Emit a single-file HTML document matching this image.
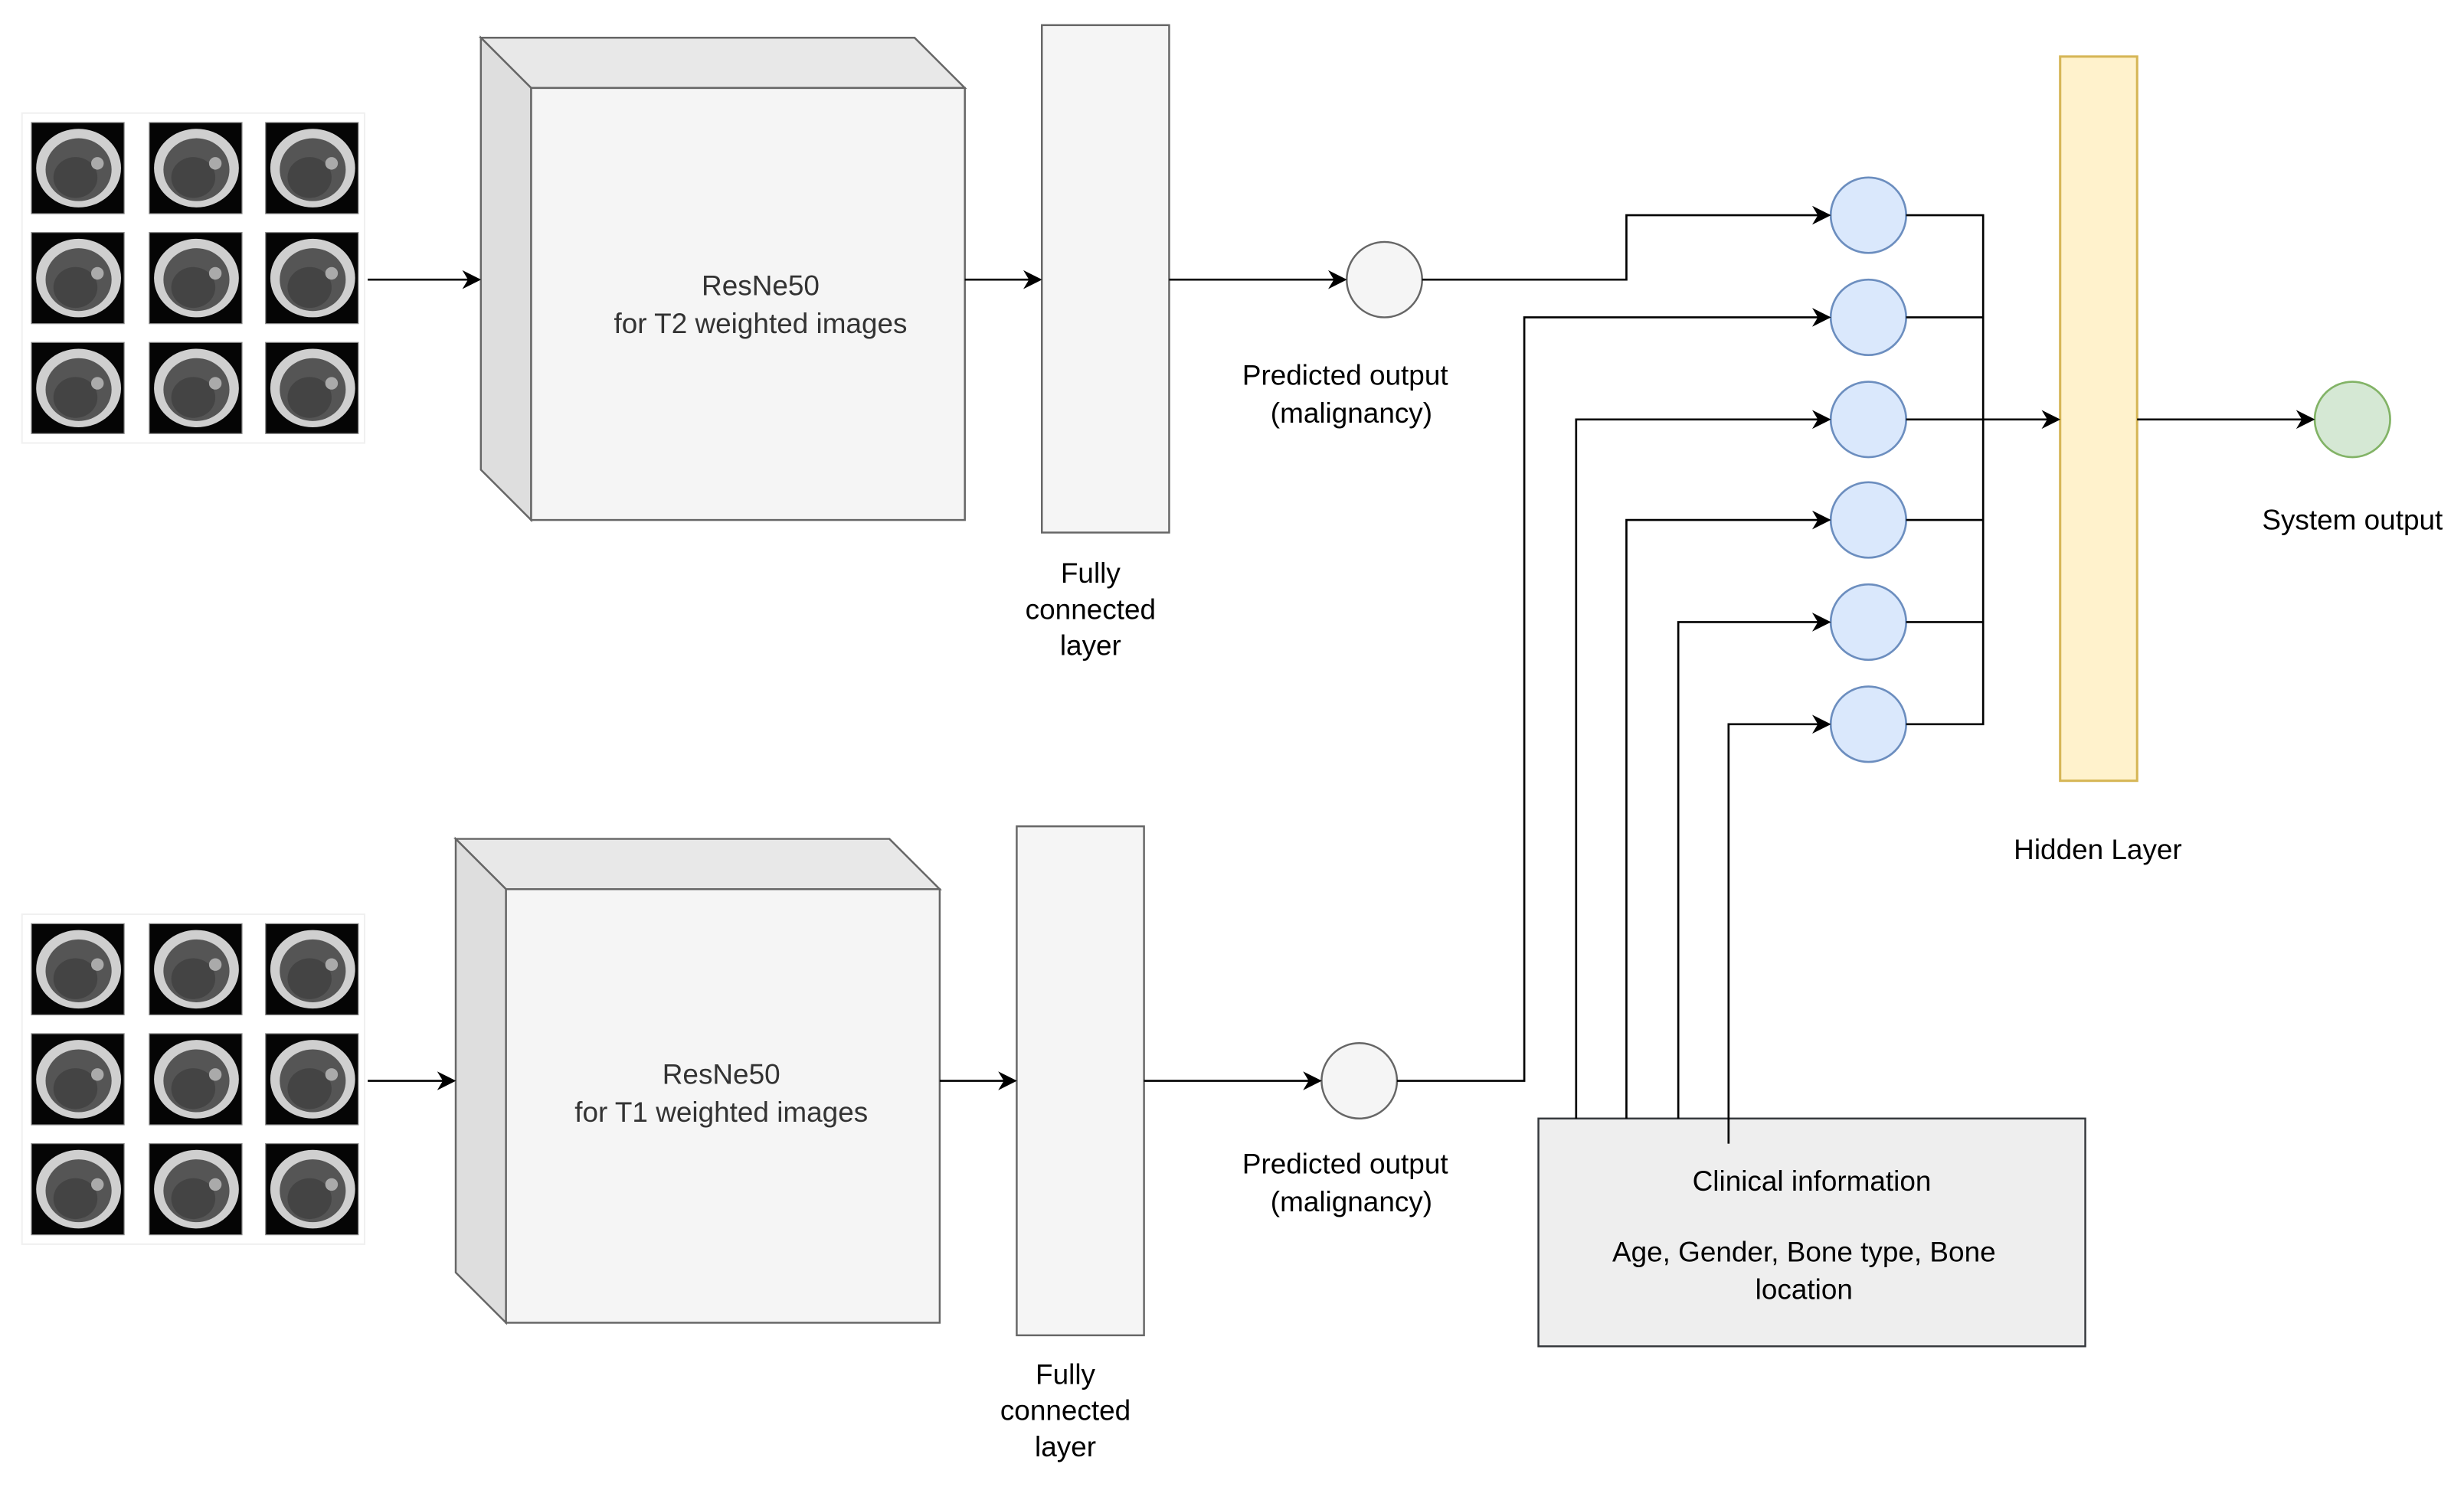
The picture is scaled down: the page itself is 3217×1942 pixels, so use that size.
<!DOCTYPE html>
<html><head><meta charset="utf-8"><style>html,body{margin:0;padding:0;background:#fff}svg{display:block}text{font-family:"Liberation Sans",Arial,sans-serif}</style></head>
<body>
<svg width="3217" height="1942" viewBox="0 0 1568 946.56" xmlns="http://www.w3.org/2000/svg" style='font-family:"Liberation Sans",Arial,sans-serif'>
<defs>
<marker id="b" viewBox="0 0 10 10" refX="9" refY="5" markerWidth="12" markerHeight="12" orient="auto" markerUnits="userSpaceOnUse"><path d="M0,0 L10,5 L0,10 L3,5 z" fill="#000"/></marker>
<g id="t">
<rect x="0" y="0" width="59" height="58" fill="#050505" stroke="#888" stroke-width="0.6"/>
<ellipse cx="30" cy="29" rx="27" ry="25" fill="#cfcfcf"/>
<ellipse cx="30" cy="30" rx="21" ry="20" fill="#555"/>
<ellipse cx="28" cy="35" rx="14" ry="13" fill="#444"/>
<ellipse cx="42" cy="26" rx="4" ry="4" fill="#aaa"/>
</g>
</defs>
<g>
<rect x="14" y="72" width="218" height="210" fill="#fff" stroke="#f0f0f0"/>
<use href="#t" x="20" y="78"/><use href="#t" x="95" y="78"/><use href="#t" x="169" y="78"/>
<use href="#t" x="20" y="148"/><use href="#t" x="95" y="148"/><use href="#t" x="169" y="148"/>
<use href="#t" x="20" y="218"/><use href="#t" x="95" y="218"/><use href="#t" x="169" y="218"/>
<rect x="14" y="582" width="218" height="210" fill="#fff" stroke="#f0f0f0"/>
<use href="#t" x="20" y="588"/><use href="#t" x="95" y="588"/><use href="#t" x="169" y="588"/>
<use href="#t" x="20" y="658"/><use href="#t" x="95" y="658"/><use href="#t" x="169" y="658"/>
<use href="#t" x="20" y="728"/><use href="#t" x="95" y="728"/><use href="#t" x="169" y="728"/>
</g>
<g stroke="#666" stroke-width="1.2">
<polygon points="306,24 582,24 614,56 338,56" fill="#e8e8e8"/>
<polygon points="306,24 338,56 338,331 306,299" fill="#dedede"/>
<rect x="338" y="56" width="276" height="275" fill="#f5f5f5"/>
<polygon points="290,534 566,534 598,566 322,566" fill="#e8e8e8"/>
<polygon points="290,534 322,566 322,842 290,810" fill="#dedede"/>
<rect x="322" y="566" width="276" height="276" fill="#f5f5f5"/>
<rect x="663" y="16" width="81" height="323" fill="#f5f5f5"/>
<rect x="647" y="526" width="81" height="324" fill="#f5f5f5"/>
<circle cx="881" cy="178" r="24" fill="#f5f5f5"/>
<circle cx="865" cy="688" r="24" fill="#f5f5f5"/>
</g>
<rect x="1311" y="36" width="49" height="461" fill="#fff2cc" stroke="#d6b656" stroke-width="1.5"/>
<rect x="979" y="712" width="348" height="145" fill="#eeeeee" stroke="#36393d" stroke-width="1.2"/>
<g fill="#dae8fc" stroke="#6c8ebf" stroke-width="1.3">
<ellipse cx="1189" cy="137" rx="24" ry="24"/><ellipse cx="1189" cy="202" rx="24" ry="24"/>
<ellipse cx="1189" cy="267" rx="24" ry="24"/><ellipse cx="1189" cy="331" rx="24" ry="24"/>
<ellipse cx="1189" cy="396" rx="24" ry="24"/><ellipse cx="1189" cy="461" rx="24" ry="24"/>
</g>
<ellipse cx="1497" cy="267" rx="24" ry="24" fill="#d5e8d4" stroke="#82b366" stroke-width="1.3"/>
<g fill="none" stroke="#000" stroke-width="1.3">
<path d="M234,178 H305" marker-end="url(#b)"/>
<path d="M614,178 H662" marker-end="url(#b)"/>
<path d="M744,178 H856" marker-end="url(#b)"/>
<path d="M234,688 H289" marker-end="url(#b)"/>
<path d="M598,688 H646" marker-end="url(#b)"/>
<path d="M728,688 H840" marker-end="url(#b)"/>
<path d="M905,178 H1035 V137 H1164" marker-end="url(#b)"/>
<path d="M889,688 H970 V202 H1164" marker-end="url(#b)"/>
<path d="M1003,712 V267 H1164" marker-end="url(#b)"/>
<path d="M1035,712 V331 H1164" marker-end="url(#b)"/>
<path d="M1068,712 V396 H1164" marker-end="url(#b)"/>
<path d="M1100,728 V461 H1164" marker-end="url(#b)"/>
<path d="M1213,137 H1262 V461 H1213 M1213,202 H1262 M1213,331 H1262 M1213,396 H1262"/>
<path d="M1213,267 H1310" marker-end="url(#b)"/>
<path d="M1360,267 H1472" marker-end="url(#b)"/>
</g>
<g font-size="18" text-anchor="middle" fill="#333">
<text x="484" y="188">ResNe50</text>
<text x="484" y="212">for T2 weighted images</text>
<text x="459" y="690">ResNe50</text>
<text x="459" y="714">for T1 weighted images</text>
</g>
<g font-size="18" text-anchor="middle" fill="#000">
<text x="694" y="371">Fully</text><text x="694" y="394">connected</text><text x="694" y="417">layer</text>
<text x="678" y="881">Fully</text><text x="678" y="904">connected</text><text x="678" y="927">layer</text>
<text x="856" y="245">Predicted output</text><text x="860" y="269">(malignancy)</text>
<text x="856" y="747">Predicted output</text><text x="860" y="771">(malignancy)</text>
<text x="1335" y="547">Hidden Layer</text>
<text x="1497" y="337">System output</text>
<text x="1153" y="758">Clinical information</text>
<text x="1148" y="803">Age, Gender, Bone type, Bone</text>
<text x="1148" y="827">location</text>
</g>
</svg>
</body></html>
